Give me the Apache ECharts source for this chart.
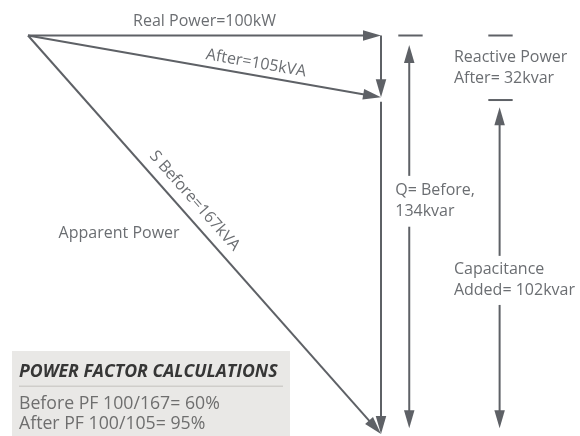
<!DOCTYPE html>
<html>
<head>
<meta charset="utf-8">
<title>Power factor triangle</title>
<script src="https://cdn.jsdelivr.net/npm/echarts@6/dist/echarts.min.js"></script>
<style>
  html, body { margin: 0; padding: 0; background: #fff; }
  #main { width: 580px; height: 436px; }
</style>
</head>
<body>
<div id="main"></div>
<script>
// power values
var realPower = 100;        // kW
var apparentBefore = 167;   // kVA
var apparentAfter = 105;    // kVA
var reactiveBefore = 134;   // kvar
var reactiveAfter = 32;     // kvar
var capacitanceAdded = 102; // kvar
var pfBefore = 60;          // %
var pfAfter = 95;           // %

// schematic positions (x in kW, y in kvar, the drawing is not to scale)
var afterLevel = 20.8;
var qCol = 108;
var capCol = 133.6;

var LINE = '#5e6166';
var TEXT = '#6b6e72';
var FONT = '"Open Sans", sans-serif';
var HEAD_LEN = 18, HEAD_W = 10.5;

var origin = [0, 0];
var corner = [realPower, 0];
var afterPt = [realPower, afterLevel];
var beforePt = [realPower, reactiveBefore];

// vectors of the triangle + dimension arrows
var vectors = [
  { from: origin, to: corner, head: 'end' },
  { from: corner, to: afterPt, head: 'end' },
  { from: origin, to: afterPt, head: 'end' },
  { from: origin, to: beforePt, head: 'end' },
  { from: [realPower, 22.3], to: beforePt, head: 'end' },
  // Q before
  { from: [104.9, 0], to: [111.8, 0], head: 'none' },
  { from: [qCol, 47.2], to: [qCol, 3.2], head: 'end' },
  { from: [qCol, 64.3], to: [qCol, 132.1], head: 'end' },
  // reactive after / capacitance
  { from: [130.4, 0], to: [137.3, 0], head: 'none' },
  { from: [130.4, 21.7], to: [137.3, 21.7], head: 'none' },
  { from: [capCol, 74.1], to: [capCol, 24.1], head: 'end' },
  { from: [capCol, 90.6], to: [capCol, 132.1], head: 'end' }
];

// labels along vectors (t = position along it, n = pixel offset to its left side)
var vectorLabels = [
  { v: 0, t: 0.5, n: 14.5, text: 'Real Power=' + realPower + 'kW', rotate: false },
  { v: 2, t: 0.64, n: 12, text: 'After=' + apparentAfter + 'kVA', rotate: true },
  { v: 3, t: 0.44, n: 15, text: 'S Before=' + apparentBefore + 'kVA', rotate: true }
];

// free labels (anchor in data units, dx pixel shift)
var freeLabels = [
  { at: [25.8, 66.4], dx: 0, align: 'center', text: 'Apparent Power' },
  { at: [qCol, 55.75], dx: -14, align: 'left', text: 'Q= Before,\n' + reactiveBefore + 'kvar' },
  { at: [capCol, 10.85], dx: -45.7, align: 'left', text: 'Reactive Power\nAfter= ' + reactiveAfter + 'kvar' },
  { at: [capCol, 82.35], dx: -45.7, align: 'left', text: 'Capacitance\nAdded= ' + capacitanceAdded + 'kvar' }
];

var pfLines = [
  'Before PF ' + realPower + '/' + apparentBefore + '= ' + pfBefore + '%',
  'After PF ' + realPower + '/' + apparentAfter + '= ' + pfAfter + '%'
];

function arrowHead(tip, ux, uy) {
  var bx = tip[0] - ux * HEAD_LEN, by = tip[1] - uy * HEAD_LEN;
  var px = -uy * HEAD_W / 2, py = ux * HEAD_W / 2;
  return {
    type: 'polygon',
    shape: { points: [tip, [bx + px, by + py], [bx - px, by - py]] },
    style: { fill: LINE }
  };
}

function renderVector(params, api) {
  var v = vectors[params.dataIndex];
  var a = api.coord(v.from), b = api.coord(v.to);
  var dx = b[0] - a[0], dy = b[1] - a[1];
  var len = Math.sqrt(dx * dx + dy * dy);
  var ux = dx / len, uy = dy / len;
  var e = b;
  var children = [];
  if (v.head === 'end') {
    e = [b[0] - ux * HEAD_LEN * 0.7, b[1] - uy * HEAD_LEN * 0.7];
    children.push(arrowHead(b, ux, uy));
  }
  children.unshift({
    type: 'line',
    shape: { x1: a[0], y1: a[1], x2: e[0], y2: e[1] },
    style: { stroke: LINE, lineWidth: 2 }
  });
  return { type: 'group', children: children };
}

function renderVectorLabel(params, api) {
  var l = vectorLabels[params.dataIndex];
  var v = vectors[l.v];
  var a = api.coord(v.from), b = api.coord(v.to);
  var dx = b[0] - a[0], dy = b[1] - a[1];
  var len = Math.sqrt(dx * dx + dy * dy);
  var ux = dx / len, uy = dy / len;
  var x = a[0] + dx * l.t + uy * l.n;
  var y = a[1] + dy * l.t - ux * l.n;
  return {
    type: 'text',
    x: x, y: y,
    rotation: l.rotate ? -Math.atan2(dy, dx) : 0,
    style: {
      text: l.text, x: 0, y: 0, align: 'center', verticalAlign: 'middle',
      fill: TEXT, font: '16px ' + FONT
    }
  };
}

function renderFreeLabel(params, api) {
  var l = freeLabels[params.dataIndex];
  var p = api.coord(l.at);
  return {
    type: 'text',
    x: p[0] + l.dx, y: p[1],
    style: {
      text: l.text, x: 0, y: 0, align: l.align, verticalAlign: 'middle',
      fill: TEXT, font: '16px ' + FONT, lineHeight: 21
    }
  };
}

function indexData(arr) {
  return arr.map(function (d, i) { return [i, 0]; });
}

var chart = echarts.init(document.getElementById('main'));
var option = {
  animation: false,
  grid: { left: 28, top: 35.5, width: 353, height: 398.5 },
  xAxis: { type: 'value', min: 0, max: realPower, show: false },
  yAxis: { type: 'value', min: 0, max: reactiveBefore, inverse: true, show: false },
  graphic: [
    {
      type: 'group', left: 12, top: 351,
      children: [
        { type: 'rect', shape: { x: 0, y: 0, width: 278, height: 85 }, style: { fill: '#e9e8e6' } },
        {
          type: 'text', x: 7, y: 21,
          style: { text: 'POWER FACTOR CALCULATIONS', verticalAlign: 'middle', fill: '#363636',
            font: 'italic bold 17.7px ' + FONT }
        },
        { type: 'rect', shape: { x: 7, y: 34.5, width: 264, height: 1.5 }, style: { fill: '#cfcdca' } },
        {
          type: 'text', x: 7, y: 53,
          style: { text: pfLines[0], verticalAlign: 'middle', fill: '#6e6e6e', font: '17.7px ' + FONT }
        },
        {
          type: 'text', x: 7, y: 73,
          style: { text: pfLines[1], verticalAlign: 'middle', fill: '#6e6e6e', font: '17.7px ' + FONT }
        }
      ]
    }
  ],
  series: [
    { type: 'custom', renderItem: renderVector, data: indexData(vectors), silent: true },
    { type: 'custom', renderItem: renderVectorLabel, data: indexData(vectorLabels), silent: true },
    { type: 'custom', renderItem: renderFreeLabel, data: indexData(freeLabels), silent: true }
  ]
};
chart.setOption(option);
window.addEventListener('resize', function () { chart.resize(); });
</script>
</body>
</html>
